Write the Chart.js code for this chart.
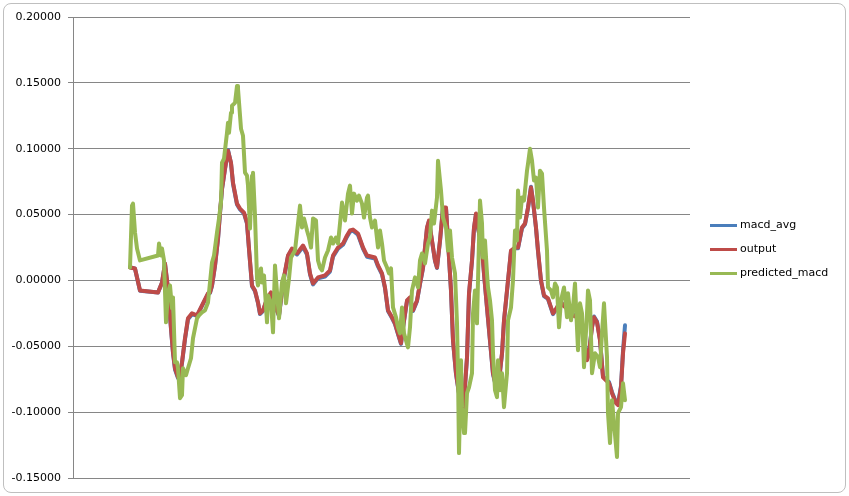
<!DOCTYPE html>
<html>
<head>
<meta charset="utf-8">
<script src="https://cdn.jsdelivr.net/npm/chart.js@4.4.0/dist/chart.umd.min.js"></script>
<style>
  html, body { margin: 0; padding: 0; background: #fff; }
  #wrap { position: relative; width: 849px; height: 496px; overflow: hidden; }
  #frame { position: absolute; left: 3px; top: 3px; width: 841px; height: 488px;
           border: 1px solid #bfbfbf; border-radius: 8px; background: #fff; }
  #c { position: absolute; left: 0; top: 0; }
  .lg { position: absolute; left: 710px; font: 11px "DejaVu Sans", sans-serif; color: #000; }
  .lg span { display: inline-block; width: 27px; height: 3px; vertical-align: middle; margin-right: 3px; }
</style>
</head>
<body>
<div id="wrap">
  <div id="frame"></div>
  <canvas id="c" width="849" height="496"></canvas>
  <div class="lg" style="top:218px"><span style="background:#4a7ebb"></span>macd_avg</div>
  <div class="lg" style="top:242px"><span style="background:#be4b48"></span>output</div>
  <div class="lg" style="top:266px"><span style="background:#98b954"></span>predicted_macd</div>
</div>
<script>
// row numbers (sample index) and values
var avgRows = [0,2.5,5,14,16,17.5,19,20.5,21.5,22.5,24,25,26,27.5,29,31,33.5,36,39,40,41,42.5,44,45,46,47.5,49,50.5,51.5,53.5,55,57,58.5,59.5,61,62.5,64,65,66.5,68.5,70.5,72.5,74.5,76.5,79,81,83.5,86.5,88.5,90,91.5,94,97.5,100,101.5,104,106.5,108.5,110,111.5,114,116.5,118.5,122.5,124,126,127.5,129,131,132.5,134,135.5,136.5,138.5,140,141.5,143.5,145,146.5,148.5,149.5,151,152.5,153.5,155,156.5,158,159,160.5,161.5,163,164.5,166,167,168.5,169.5,171,172,173,174,176,177,178.5,180,181.5,183.5,184.5,186,187,189,190.5,192.5,194,196,197.5,199,200.5,201.5,203,204,205.5,207,209,210.5,211.5,213.5,215,216.5,218.5,220,221.5,223.5,225,226.5,228.5,229.5,231,232,233.5,235,236.5,238,239.5,241,243,244,245.5,246.5,247.5];

var output = [0.0098,0.0091,-0.0076,-0.0091,-0.0015,0.0129,-0.0061,-0.0364,-0.0545,-0.0667,-0.0735,-0.0720,-0.0621,-0.0439,-0.0288,-0.0250,-0.0265,-0.0189,-0.0098,-0.0091,-0.0038,0.0114,0.0318,0.0515,0.0697,0.0848,0.0985,0.0894,0.0742,0.0583,0.0545,0.0515,0.0439,0.0242,-0.0038,-0.0076,-0.0167,-0.0250,-0.0227,-0.0136,-0.0091,-0.0189,-0.0265,-0.0015,0.0189,0.0242,0.0205,0.0265,0.0205,0.0053,-0.0023,0.0023,0.0038,0.0076,0.0189,0.0250,0.0280,0.0341,0.0379,0.0386,0.0356,0.0250,0.0189,0.0174,0.0114,0.0053,-0.0053,-0.0227,-0.0280,-0.0326,-0.0402,-0.0477,-0.0356,-0.0152,-0.0129,-0.0227,-0.0152,-0.0023,0.0098,0.0402,0.0455,0.0303,0.0152,0.0098,0.0303,0.0553,0.0553,0.0303,-0.0076,-0.0455,-0.0705,-0.0856,-0.1038,-0.0909,-0.0583,-0.0098,0.0152,0.0402,0.0508,0.0402,0.0250,0.0053,-0.0205,-0.0455,-0.0705,-0.0833,-0.0758,-0.0553,-0.0303,0.0000,0.0227,0.0250,0.0250,0.0402,0.0432,0.0553,0.0705,0.0606,0.0402,0.0227,0.0000,-0.0114,-0.0136,-0.0205,-0.0250,-0.0205,-0.0152,-0.0189,-0.0212,-0.0227,-0.0265,-0.0280,-0.0303,-0.0402,-0.0606,-0.0553,-0.0356,-0.0280,-0.0318,-0.0455,-0.0735,-0.0758,-0.0780,-0.0856,-0.0932,-0.0947,-0.0811,-0.0553,-0.0402];

var macdAvg = [0.0101,0.0089,-0.0078,-0.0092,-0.0018,0.0126,-0.0066,-0.0370,-0.0552,-0.0676,-0.0741,-0.0728,-0.0628,-0.0447,-0.0295,-0.0256,-0.0270,-0.0194,-0.0103,-0.0095,-0.0042,0.0110,0.0312,0.0510,0.0692,0.0845,0.0990,0.0888,0.0734,0.0576,0.0539,0.0508,0.0430,0.0236,-0.0044,-0.0082,-0.0172,-0.0255,-0.0232,-0.0142,-0.0096,-0.0194,-0.0270,-0.0020,0.0183,0.0236,0.0197,0.0256,0.0197,0.0046,-0.0030,0.0016,0.0030,0.0068,0.0180,0.0241,0.0271,0.0332,0.0370,0.0378,0.0347,0.0242,0.0180,0.0166,0.0106,0.0046,-0.0060,-0.0232,-0.0286,-0.0332,-0.0408,-0.0482,-0.0362,-0.0158,-0.0134,-0.0232,-0.0158,-0.0028,0.0092,0.0396,0.0450,0.0298,0.0147,0.0094,0.0298,0.0548,0.0548,0.0298,-0.0082,-0.0460,-0.0710,-0.0862,-0.1030,-0.0915,-0.0588,-0.0104,0.0147,0.0396,0.0502,0.0396,0.0244,0.0048,-0.0210,-0.0460,-0.0712,-0.0838,-0.0764,-0.0558,-0.0308,-0.0005,0.0221,0.0244,0.0244,0.0396,0.0426,0.0548,0.0712,0.0600,0.0396,0.0221,-0.0005,-0.0119,-0.0141,-0.0210,-0.0256,-0.0210,-0.0158,-0.0184,-0.0206,-0.0222,-0.0258,-0.0274,-0.0296,-0.0394,-0.0598,-0.0545,-0.0350,-0.0274,-0.0312,-0.0448,-0.0728,-0.0752,-0.0772,-0.0848,-0.0925,-0.0938,-0.0800,-0.0536,-0.0341];

var predRows = [0,1,1.5,2.5,3.5,5,14,14.5,15.5,16,17,18,19,20,21,21.5,22.5,23.5,24,25,26,26.5,28,29,30.5,31.5,33.5,34.5,36,37.5,39,41,42,43.5,44.5,45.5,46,47,48.5,49,49.5,50.5,51,52.5,53.5,54,55.5,56.5,57.5,58.5,59,60,61,61.5,62.5,63.5,64,65.5,66,67,68.5,69,70.5,71.5,72.5,73.5,74.5,76,77,78,79.5,80.5,82.5,84,85,86,87,88.5,89.5,90.5,91.5,93,94,95,96,97.5,99,100.5,101.5,103,104,105,106,107.5,109,110,111,112,113.5,114.5,116,117,118.5,119,120,121,122.5,124,125,126,127,128.5,129.5,130.5,131.5,133,134,135,136,137,139,140,141,142.5,144,145,146,147.5,149,150,151,152,153.5,154,155.5,156.5,158,159,160,161,162.5,163.5,164,164.5,165.5,166,167,167.5,168.5,169.5,171,171.5,172.5,173.5,174,175,176,176.5,177.5,178.5,179,180,181,181.5,182.5,183.5,184,185,186,187,188.5,189,190.5,191.5,192.5,193.5,194,195,196,197,198.5,199,200,201,202,203,204,205,206,207,208.5,209,210.5,211.5,212.5,213.5,214.5,215.5,217,218.5,219,220.5,221.5,222.5,224,225,226,227,228.5,229,230,231,232.5,234,235,236,237,238.5,239,240,241,242,243.5,244,245.5,246.5,247.5];

var predictedMacd = [0.0098,0.0568,0.0583,0.0364,0.0242,0.0152,0.0189,0.0280,0.0189,0.0242,0.0152,-0.0318,-0.0091,-0.0038,-0.0212,-0.0129,-0.0621,-0.0621,-0.0667,-0.0894,-0.0871,-0.0667,-0.0720,-0.0667,-0.0591,-0.0439,-0.0288,-0.0265,-0.0242,-0.0227,-0.0167,0.0136,0.0189,0.0364,0.0470,0.0591,0.0894,0.0924,0.1121,0.1197,0.1121,0.1273,0.1326,0.1348,0.1477,0.1455,0.1152,0.1098,0.0818,0.0795,0.0720,0.0394,0.0795,0.0818,0.0492,0.0015,-0.0038,0.0091,-0.0015,0.0038,-0.0318,-0.0114,-0.0167,-0.0394,0.0114,-0.0091,-0.0288,-0.0015,0.0038,-0.0174,0.0015,0.0174,0.0227,0.0432,0.0568,0.0402,0.0470,0.0379,0.0326,0.0250,0.0470,0.0455,0.0152,0.0098,0.0076,0.0174,0.0227,0.0326,0.0280,0.0326,0.0280,0.0432,0.0591,0.0455,0.0659,0.0720,0.0508,0.0659,0.0606,0.0644,0.0583,0.0477,0.0629,0.0644,0.0477,0.0402,0.0455,0.0250,0.0379,0.0280,0.0152,0.0098,0.0053,0.0091,-0.0205,-0.0280,-0.0356,-0.0402,-0.0205,-0.0402,-0.0508,-0.0356,-0.0076,0.0023,-0.0053,0.0152,0.0205,0.0129,0.0280,0.0326,0.0530,0.0432,0.0629,0.0909,0.0682,0.0477,0.0402,0.0227,0.0379,0.0174,0.0053,-0.0326,-0.0705,-0.1311,-0.0606,-0.0962,-0.1159,-0.1159,-0.0856,-0.0811,-0.0705,-0.0250,-0.0076,-0.0326,0.0000,0.0606,0.0432,0.0174,0.0303,0.0053,-0.0053,-0.0152,-0.0303,-0.0553,-0.0833,-0.0886,-0.0606,-0.0833,-0.0705,-0.0962,-0.0705,-0.0303,-0.0205,0.0000,0.0379,0.0303,0.0682,0.0477,0.0629,0.0606,0.0833,0.0886,0.1000,0.0909,0.0758,0.0780,0.0553,0.0833,0.0811,0.0553,0.0227,-0.0053,-0.0076,-0.0129,-0.0023,-0.0053,-0.0356,-0.0152,-0.0053,-0.0280,-0.0098,-0.0303,-0.0205,-0.0023,-0.0530,-0.0174,-0.0250,-0.0659,-0.0250,-0.0076,-0.0152,-0.0705,-0.0553,-0.0583,-0.0659,-0.0402,-0.0174,-0.0583,-0.1008,-0.1235,-0.0909,-0.1083,-0.1341,-0.1008,-0.0962,-0.0780,-0.0909];

var yTicks = [0.2, 0.15, 0.1, 0.05, 0, -0.05, -0.1, -0.15];

function pairs(xs, ys) {
  return xs.map(function(x, i) { return { x: x, y: ys[i] }; });
}

var lineBase = { pointRadius: 0, borderWidth: 4, tension: 0, fill: false,
                 borderJoinStyle: 'round', borderCapStyle: 'round' };

new Chart(document.getElementById('c').getContext('2d'), {
  type: 'line',
  data: {
    datasets: [
      Object.assign({ label: 'macd_avg', data: pairs(avgRows, macdAvg), borderColor: '#4a7ebb', order: 2 }, lineBase),
      Object.assign({ label: 'output', data: pairs(avgRows, output), borderColor: '#be4b48', order: 1 }, lineBase),
      Object.assign({ label: 'predicted_macd', data: pairs(predRows, predictedMacd), borderColor: '#98b954', order: 0 }, lineBase)
    ]
  },
  options: {
    responsive: false,
    animation: false,
    layout: { padding: { left: 0, top: 17, right: 159, bottom: 18 } },
    plugins: { legend: { display: false }, tooltip: { enabled: false } },
    scales: {
      x: { type: 'linear', display: false, min: -28.5, max: 280 },
      y: {
        min: -0.15, max: 0.2,
        afterFit: function(s) { s.width = 73; },
        afterBuildTicks: function(s) { s.ticks = yTicks.map(function(v) { return { value: v }; }); },
        grid: { color: '#868686', lineWidth: 1, tickLength: 5, drawTicks: true },
        border: { display: true, color: '#868686' },
        ticks: {
          padding: 7, color: '#000',
          font: { family: 'DejaVu Sans', size: 11 },
          callback: function(v) { return v.toFixed(5); }
        }
      }
    }
  }
});
</script>
</body>
</html>
